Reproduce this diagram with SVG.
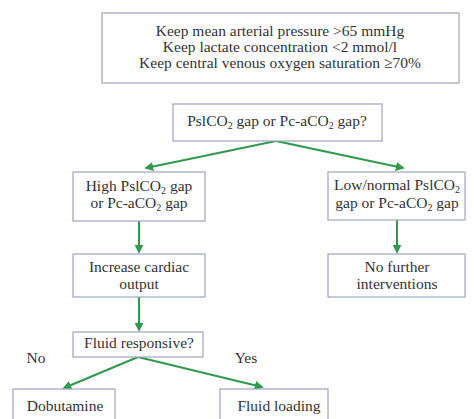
<svg xmlns="http://www.w3.org/2000/svg" width="474" height="419" viewBox="0 0 474 419">
<defs>
<style>
.box{fill:#ffffff;stroke:#9ea2c4;stroke-width:1.2}
.t{font-family:"Liberation Serif","Times New Roman",serif;font-size:15.5px;fill:#333333;text-anchor:middle}
.s{font-size:10px}
.c{stroke:#2e9a4c;stroke-width:2;fill:none;marker-end:url(#ah)}
</style>
<marker id="ah" viewBox="0 0 10 10" refX="8" refY="5" markerWidth="4.5" markerHeight="4.5" orient="auto" markerUnits="strokeWidth">
<path d="M0,0 L10,5 L0,10 Z" fill="#2e9a4c"/>
</marker>
</defs>
<rect width="474" height="419" fill="#ffffff"/>
<g id="connectors">
<line class="c" x1="276" y1="141" x2="146" y2="168"/>
<line class="c" x1="276" y1="141" x2="403" y2="168"/>
<line class="c" x1="139" y1="221" x2="139" y2="252"/>
<line class="c" x1="397" y1="220" x2="397" y2="252"/>
<line class="c" x1="139" y1="297" x2="139" y2="330"/>
<line class="c" x1="138" y1="357" x2="64" y2="388"/>
<line class="c" x1="138" y1="357" x2="262" y2="387"/>
</g>
<g id="goals">
<rect class="box" x="102" y="13" width="357" height="70"/>
<text class="t" x="280" y="36">Keep mean arterial pressure &gt;65 mmHg</text>
<text class="t" x="280" y="52">Keep lactate concentration &lt;2 mmol/l</text>
<text class="t" x="280" y="68">Keep central venous oxygen saturation ≥70%</text>
</g>
<g id="gap">
<rect class="box" x="173" y="104" width="209" height="37"/>
<text class="t" x="277" y="126">PslCO<tspan class="s" dy="2.5">2</tspan><tspan dy="-2.5"> gap or Pc-aCO</tspan><tspan class="s" dy="2.5">2</tspan><tspan dy="-2.5"> gap?</tspan></text>
</g>
<g id="high">
<rect class="box" x="73" y="172" width="132" height="49"/>
<text class="t" x="139" y="191">High PslCO<tspan class="s" dy="2.5">2</tspan><tspan dy="-2.5"> gap</tspan></text>
<text class="t" x="139" y="208">or Pc-aCO<tspan class="s" dy="2.5">2</tspan><tspan dy="-2.5"> gap</tspan></text>
</g>
<g id="low">
<rect class="box" x="328" y="172" width="137" height="48"/>
<text class="t" x="397" y="190">Low/normal PslCO<tspan class="s" dy="2.5">2</tspan></text>
<text class="t" x="397" y="208">gap or Pc-aCO<tspan class="s" dy="2.5">2</tspan><tspan dy="-2.5"> gap</tspan></text>
</g>
<g id="increase">
<rect class="box" x="73" y="254" width="132" height="43"/>
<text class="t" x="139" y="272">Increase cardiac</text>
<text class="t" x="139" y="289">output</text>
</g>
<g id="nofurther">
<rect class="box" x="328" y="254" width="137" height="43"/>
<text class="t" x="397" y="272">No further</text>
<text class="t" x="397" y="289">interventions</text>
</g>
<g id="fluidresp">
<rect class="box" x="73" y="332" width="130" height="25"/>
<text class="t" x="139" y="348">Fluid responsive?</text>
</g>
<text class="t" x="36" y="363">No</text>
<text class="t" x="246" y="363">Yes</text>
<g id="dobutamine">
<rect class="box" x="13" y="389" width="102" height="40"/>
<text class="t" x="65" y="411">Dobutamine</text>
</g>
<g id="fluidloading">
<rect class="box" x="220" y="389" width="108" height="40"/>
<text class="t" x="279" y="411">Fluid loading</text>
</g>
</svg>
